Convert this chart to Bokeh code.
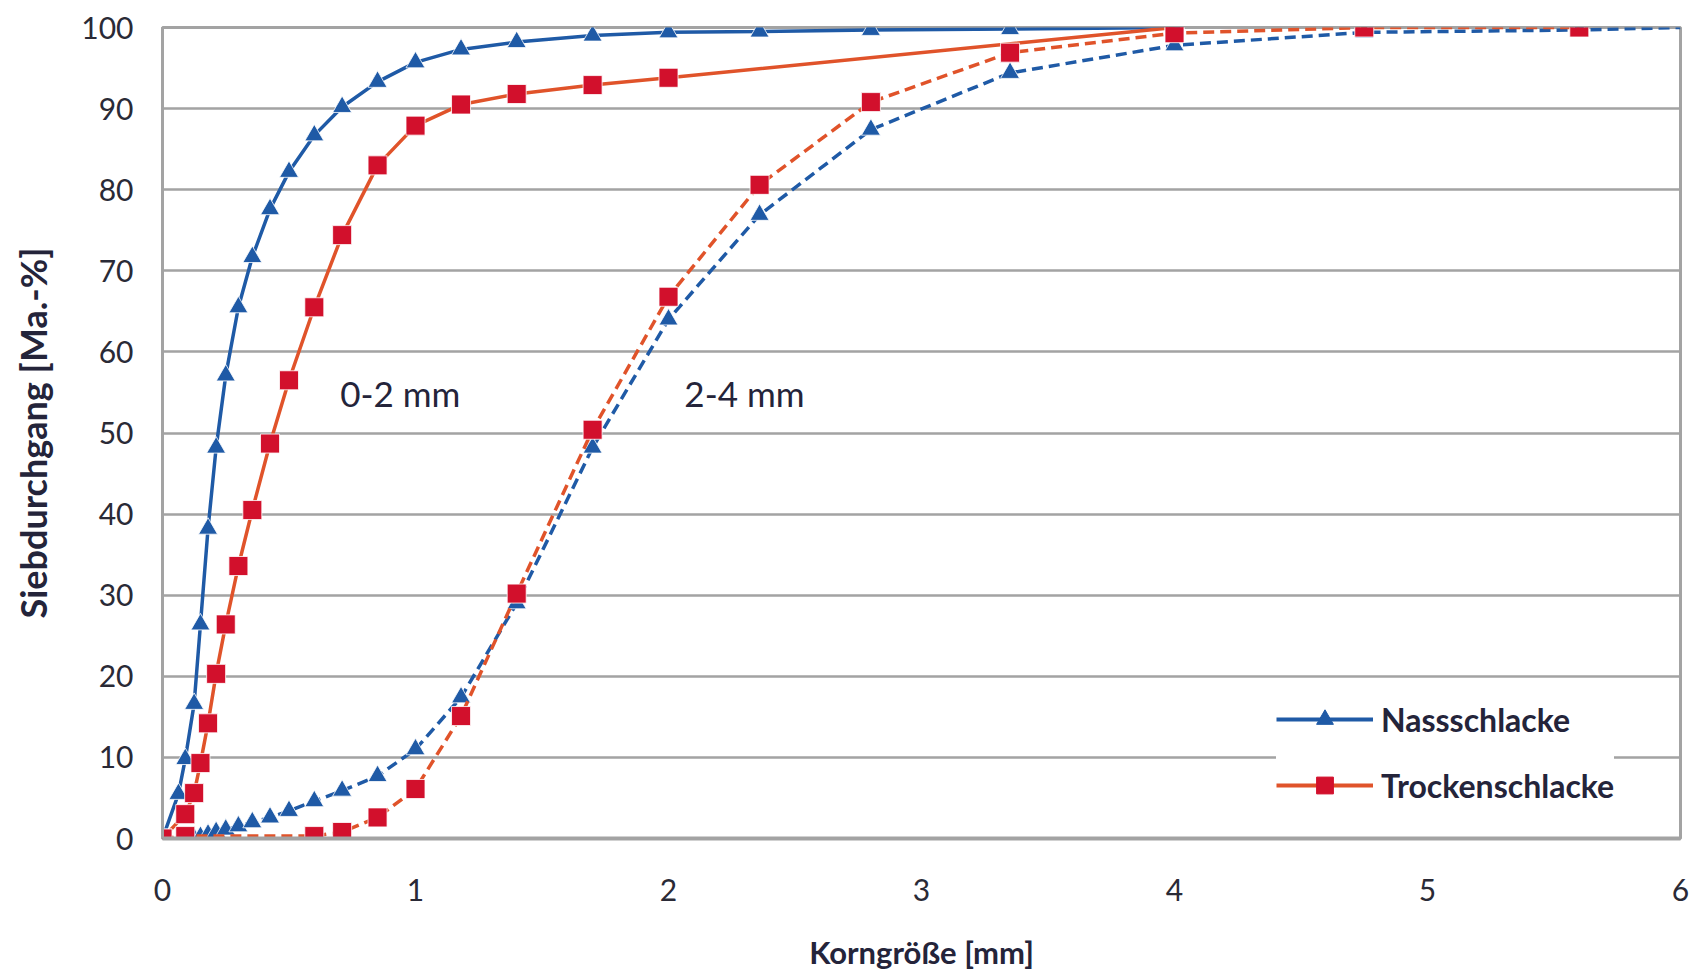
from bokeh.plotting import figure
from bokeh.models import Range1d, FixedTicker, Legend, LegendItem
from bokeh.core.properties import value
from bokeh.embed import file_html
from bokeh.resources import INLINE

# ---------------- data ----------------
x_ticks = [0, 1, 2, 3, 4, 5, 6]
y_ticks = [0, 10, 20, 30, 40, 50, 60, 70, 80, 90, 100]

series_names = ["Nassschlacke", "Trockenschlacke"]

# 0-2 mm, Nassschlacke
x_nass_02 = [0, 0.063, 0.09, 0.125, 0.15, 0.18, 0.212, 0.25, 0.3, 0.355, 0.425, 0.5, 0.6,
             0.71, 0.85, 1.0, 1.18, 1.4, 1.7, 2.0, 2.36, 2.8, 3.35, 4.0]
y_nass_02 = [0, 5.5, 9.8, 16.6, 26.4, 38.2, 48.2, 57.1, 65.5, 71.7, 77.6, 82.2, 86.7,
             90.2, 93.3, 95.7, 97.3, 98.2, 99.0, 99.4, 99.5, 99.7, 99.8, 100]

# 0-2 mm, Trockenschlacke
x_trocken_02 = [0, 0.09, 0.125, 0.15, 0.18, 0.212, 0.25, 0.3, 0.355, 0.425, 0.5, 0.6,
                0.71, 0.85, 1.0, 1.18, 1.4, 1.7, 2.0, 4.0]
y_trocken_02 = [0, 3.0, 5.6, 9.3, 14.2, 20.3, 26.4, 33.6, 40.5, 48.7, 56.5, 65.5,
                74.4, 83.0, 87.9, 90.5, 91.8, 92.9, 93.8, 100]

# 2-4 mm, Nassschlacke
x_nass_24 = [0, 0.125, 0.15, 0.18, 0.212, 0.25, 0.3, 0.355, 0.425, 0.5, 0.6, 0.71, 0.85,
             1.0, 1.18, 1.4, 1.7, 2.0, 2.36, 2.8, 3.35, 4.0, 4.75, 5.6, 6.0]
y_nass_24 = [0, 0, 0.2, 0.5, 0.8, 1.1, 1.5, 2.0, 2.6, 3.4, 4.6, 5.9, 7.7,
             11.0, 17.4, 29.0, 48.2, 64.0, 76.9, 87.4, 94.4, 97.8, 99.4, 99.7, 100]

# 2-4 mm, Trockenschlacke
x_trocken_24 = [0, 0.09, 0.6, 0.71, 0.85, 1.0, 1.18, 1.4, 1.7, 2.0, 2.36, 2.8, 3.35,
                4.0, 4.75, 5.6]
y_trocken_24 = [0, 0.3, 0.3, 0.8, 2.6, 6.1, 15.1, 30.2, 50.4, 66.8, 80.6, 90.8, 96.9,
                99.3, 100, 100]

group_labels = ["0-2 mm", "2-4 mm"]
group_label_x = [0.94, 2.30]
group_label_y = [54.9, 54.9]

# ---------------- styles ----------------
BLUE = "#1f5aa6"
RED_LINE = "#e0532a"
RED_MARK = "#d2102c"
GRID = "#a3a3a3"
TEXT = "#24243a"
FONT = "Lato"
NAN = float("nan")

p = figure(width=1690, height=973, output_backend="svg", toolbar_location=None,
           x_range=Range1d(0, 6), y_range=Range1d(0, 100),
           min_border_left=162, min_border_right=10, min_border_top=27,
           min_border_bottom=135)
p.background_fill_color = "white"
p.border_fill_color = "white"
p.outline_line_color = GRID
p.outline_line_width = 3

p.xaxis.ticker = FixedTicker(ticks=x_ticks)
p.yaxis.ticker = FixedTicker(ticks=y_ticks)
p.xgrid.grid_line_color = None
p.ygrid.grid_line_color = GRID
p.ygrid.grid_line_width = 2.5

for ax in (p.xaxis[0], p.yaxis[0]):
    ax.major_tick_line_color = None
    ax.minor_tick_line_color = None
    ax.axis_line_color = GRID
    ax.major_label_text_font = FONT
    ax.major_label_text_font_size = "30px"
    ax.major_label_text_color = "#2a2a36"
    ax.axis_label_text_font = FONT
    ax.axis_label_text_font_style = "bold"
    ax.axis_label_text_color = TEXT

p.xaxis.axis_line_width = 4
p.yaxis.axis_line_width = 3
p.xaxis.major_label_standoff = 34
p.yaxis.major_label_standoff = 23
p.xaxis.axis_label = "Korngröße [mm]"
p.yaxis.axis_label = "Siebdurchgang [Ma.-%]"
p.xaxis.axis_label_text_font_size = "31px"
p.yaxis.axis_label_text_font_size = "36px"
p.xaxis.axis_label_standoff = 29
p.yaxis.axis_label_standoff = 23

# ---------------- series ----------------
p.line(x_nass_02, y_nass_02, line_color=BLUE, line_width=3.5)
p.scatter(x_nass_02, y_nass_02, marker="triangle", size=19, fill_color=BLUE,
          line_color="white", line_width=0.8)

p.line(x_trocken_02, y_trocken_02, line_color=RED_LINE, line_width=3.5)
p.scatter(x_trocken_02, y_trocken_02, marker="square", size=19, fill_color=RED_MARK,
          line_color="white", line_width=0.8)

p.line(x_nass_24, y_nass_24, line_color=BLUE, line_width=3.5, line_dash="11 6")
p.scatter(x_nass_24[:-1], y_nass_24[:-1], marker="triangle", size=19, fill_color=BLUE,
          line_color="white", line_width=0.8)

p.line(x_trocken_24, y_trocken_24, line_color=RED_LINE, line_width=3.5, line_dash="11 6")
p.scatter(x_trocken_24, y_trocken_24, marker="square", size=19, fill_color=RED_MARK,
          line_color="white", line_width=0.8)

p.text(x=group_label_x, y=group_label_y, text=group_labels,
       text_font=value(FONT), text_font_size="35px", text_color=TEXT,
       text_align="center", text_baseline="middle")

# ---------------- legend (proxy glyphs, not visible in the plot) ----------------
lg_b_line = p.line([NAN], [NAN], line_color=BLUE, line_width=4)
lg_b_mark = p.scatter([NAN], [NAN], marker="triangle", size=7, fill_color=BLUE, line_color=BLUE)
lg_r_line = p.line([NAN], [NAN], line_color=RED_LINE, line_width=4)
lg_r_mark = p.scatter([NAN], [NAN], marker="square", size=15, fill_color=RED_MARK,
                      line_color=RED_MARK)

legend = Legend(items=[
    LegendItem(label=series_names[0], renderers=[lg_b_line, lg_b_mark]),
    LegendItem(label=series_names[1], renderers=[lg_r_line, lg_r_mark]),
], location=(1114, 32))
legend.border_line_color = None
legend.background_fill_color = "white"
legend.background_fill_alpha = 1.0
legend.glyph_width = 97
legend.glyph_height = 42
legend.spacing = 24
legend.padding = 12
legend.margin = 0
legend.label_standoff = 8
legend.label_height = 42
legend.label_text_font = FONT
legend.label_text_font_size = "32px"
legend.label_text_font_style = "bold"
legend.label_text_color = TEXT
p.add_layout(legend, "center")

open("out.html", "w").write(file_html(p, INLINE))
